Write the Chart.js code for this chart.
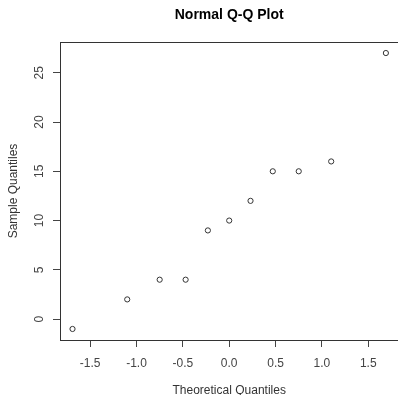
<!DOCTYPE html>
<html>
<head>
<meta charset="utf-8">
<script src="https://cdn.jsdelivr.net/npm/chart.js@4"></script>
<style>
  html, body { margin: 0; padding: 0; background: #fff; overflow: hidden; }
  #wrap { width: 402px; height: 395px; }
</style>
</head>
<body>
<div id="wrap"><canvas id="qq" width="402" height="395"></canvas></div>
<script>
  // theoretical quantiles and sorted sample values
  const theoretical = [-1.69, -1.10, -0.75, -0.47, -0.23, 0.00, 0.23, 0.47, 0.75, 1.10, 1.69];
  const sample = [-1, 2, 4, 4, 9, 10, 12, 15, 15, 16, 27];
  const xTicks = [-1.5, -1.0, -0.5, 0.0, 0.5, 1.0, 1.5];
  const yTicks = [0, 5, 10, 15, 20, 25];

  const points = theoretical.map((x, i) => ({ x: x, y: sample[i] }));
  const font = 'Liberation Sans, Arial, sans-serif';

  // R draws a box round the plot region
  const boxPlugin = {
    id: 'box',
    afterDatasetsDraw(chart) {
      const a = chart.chartArea;
      const c = chart.ctx;
      c.save();
      c.strokeStyle = '#333';
      c.lineWidth = 1;
      c.strokeRect(Math.round(a.left) + 0.5, Math.round(a.top) + 0.5,
        Math.round(a.right - a.left), Math.round(a.bottom - a.top));
      c.restore();
    }
  };

  const ctx = document.getElementById('qq');

  new Chart(ctx, {
    type: 'scatter',
    data: {
      datasets: [{
        data: points,
        pointStyle: 'circle',
        pointRadius: 2.6,
        pointHoverRadius: 2.6,
        pointBorderWidth: 1,
        pointBorderColor: '#333',
        pointBackgroundColor: 'rgba(0,0,0,0)'
      }]
    },
    plugins: [boxPlugin],
    options: {
      responsive: false,
      animation: false,
      layout: { padding: 0 },
      plugins: {
        legend: { display: false },
        tooltip: { enabled: false }
      },
      scales: {
        // top axis only carries the main title, centred over the plot region like R
        top: {
          type: 'linear',
          position: 'top',
          min: -1.825,
          max: 1.825,
          afterFit(scale) { scale.height = 42; },
          grid: { display: false },
          border: { display: false },
          ticks: { display: false },
          title: {
            display: true,
            text: 'Normal Q-Q Plot',
            color: '#000',
            font: { family: font, size: 14, weight: 'bold', lineHeight: 1 },
            padding: { top: 8, bottom: 0 }
          }
        },
        x: {
          type: 'linear',
          position: 'bottom',
          min: -1.825,
          max: 1.825,
          afterFit(scale) { scale.height = 55; },
          afterBuildTicks(scale) { scale.ticks = xTicks.map(v => ({ value: v })); },
          grid: { drawOnChartArea: false, drawTicks: true, tickLength: 7, color: '#444' },
          border: { display: true, color: '#333' },
          ticks: {
            color: '#444',
            padding: 9,
            maxRotation: 0,
            font: { family: font, size: 12 },
            callback: v => v.toFixed(1)
          },
          title: {
            display: true,
            text: 'Theoretical Quantiles',
            color: '#333',
            font: { family: font, size: 12, lineHeight: 0.8 },
            padding: { top: 0, bottom: 0 }
          }
        },
        y: {
          type: 'linear',
          min: -2.12,
          max: 28.12,
          afterFit(scale) { scale.width = 60; },
          afterBuildTicks(scale) { scale.ticks = yTicks.map(v => ({ value: v })); },
          grid: { drawOnChartArea: false, drawTicks: true, tickLength: 7, color: '#444' },
          border: { display: true, color: '#333' },
          ticks: {
            color: '#444',
            padding: 6.5,
            minRotation: 90,
            maxRotation: 90,
            crossAlign: 'center',
            font: { family: font, size: 12 },
            callback: v => String(v)
          },
          title: {
            display: true,
            text: 'Sample Quantiles',
            color: '#333',
            font: { family: font, size: 12, lineHeight: 1.2 },
            padding: { top: 6, bottom: 0 }
          }
        }
      }
    }
  });
</script>
</body>
</html>
